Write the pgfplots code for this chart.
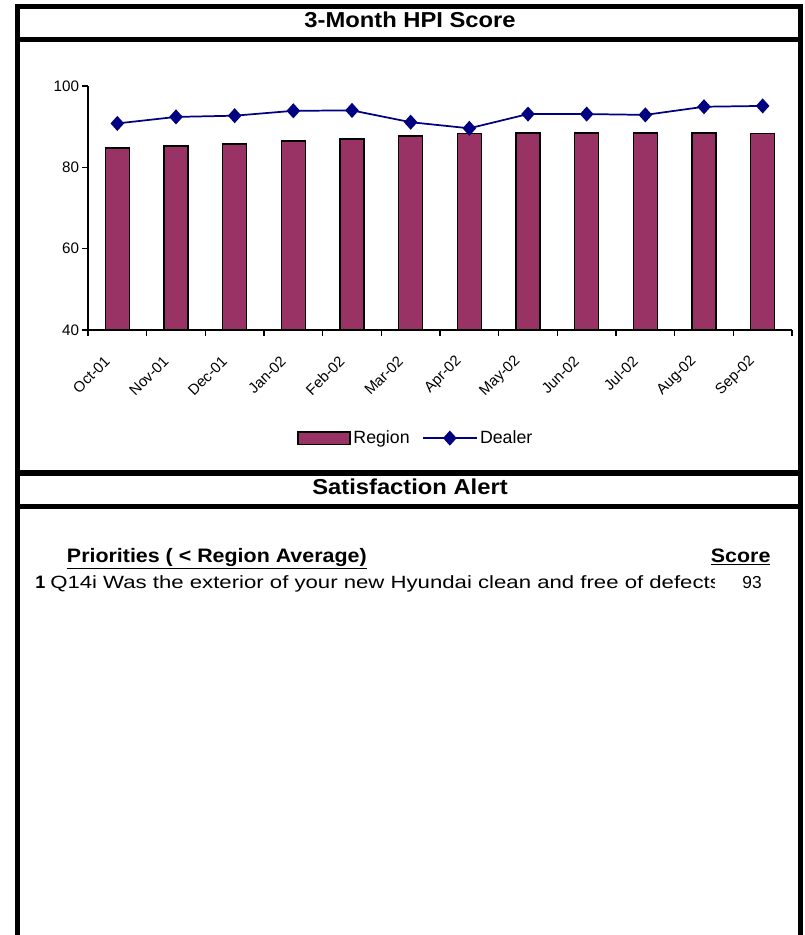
\documentclass[border=0pt]{standalone}
\usepackage{fontspec}
\setmainfont{Liberation Sans}
\newfontfamily\widefont{Liberation Sans}[FakeStretch=1.25]
\newfontfamily\medfont{Liberation Sans}[FakeStretch=1.1]
\newfontfamily\titlefont{Liberation Sans}[FakeStretch=1.1]
\usepackage{pgfplots}
\pgfplotsset{compat=1.18}
\definecolor{plum}{HTML}{993366}
\definecolor{navyb}{HTML}{000080}
\begin{document}
\begin{tikzpicture}
\begin{scope}[x=0.75pt,y=0.75pt]
\useasboundingbox (0,0) rectangle (804,-935);
\fill[black] (15,-4) rectangle (20,-935);
\fill[black] (798,-4) rectangle (803,-935);
\fill[black] (15,-4) rectangle (803,-8.5);
\fill[black] (15,-37) rectangle (803,-42);
\fill[black] (15,-470) rectangle (803,-475.5);
\fill[black] (15,-503.5) rectangle (803,-508.5);
\node[anchor=base,inner sep=0,font=\titlefont\bfseries\fontsize{16.2}{18}\selectfont] at (410,-27) {3-Month HPI Score};
\node[anchor=base,inner sep=0,font=\titlefont\bfseries\fontsize{16.2}{18}\selectfont] at (410,-494.5) {Satisfaction Alert};
\node[anchor=base west,inner sep=0,font=\medfont\bfseries\fontsize{14.6}{16}\selectfont] at (66.7,-562) {\underline{Priorities ( < Region Average)}};
\node[anchor=base east,inner sep=0,font=\medfont\bfseries\fontsize{14.6}{16}\selectfont] at (770.7,-562) {\underline{Score}};
\node[anchor=base west,inner sep=0,font=\bfseries\fontsize{13.5}{15}\selectfont] at (35,-588) {1};
\begin{scope}
\clip (40,-560) rectangle (714,-600);
\node[anchor=base west,inner sep=0,font=\widefont\fontsize{13.3}{15}\selectfont] at (50,-588) {Q14i Was the exterior of your new Hyundai clean and free of defects};
\end{scope}
\node[anchor=base east,inner sep=0,font=\fontsize{13}{15}\selectfont] at (762,-588) {93};
\end{scope}
\begin{axis}[
  at={(66pt,-247.5pt)}, anchor=south west,
  scale only axis, width=528pt, height=183pt,
  xmin=-0.5, xmax=11.5, ymin=40, ymax=100,
  axis lines*=left,
  axis line style={line width=1.4pt, black},
  xtick={0,...,11},
  xticklabels={Oct-01,Nov-01,Dec-01,Jan-02,Feb-02,Mar-02,Apr-02,May-02,Jun-02,Jul-02,Aug-02,Sep-02},
  minor xtick={-0.5,0.5,1.5,2.5,3.5,4.5,5.5,6.5,7.5,8.5,9.5,10.5,11.5},
  major x tick style={draw=none},
  minor x tick style={line width=1.2pt, black},
  ytick={40,60,80,100},
  y tick style={line width=1.2pt, black},
  tick align=outside,
  major tick length=4.5pt, minor tick length=4.5pt,
  tick label style={font=\fontsize{11.2}{13}\selectfont},
  yticklabel style={font=\fontsize{11.4}{13}\selectfont, inner sep=2pt},
  /pgf/number format/assume math mode=true,
  xticklabel style={xshift=-7.5pt, rotate=45, anchor=east, inner sep=0pt},
  xticklabel shift=17pt,
  clip=false,
  legend columns=2,
  legend style={draw=none, fill=none, at={(0.466,-0.443)}, anchor=center,
    font=\fontsize{13.3}{15}\selectfont,
    /tikz/every even column/.append style={column sep=7.5pt}},
]
\addplot[ybar, bar width=18pt, fill=plum, draw=black, line width=1.2pt,
  legend image code/.code={\draw[fill=plum, draw=black, line width=1.2pt] (0pt,-4.7pt) rectangle (39pt,4.7pt);}]
  coordinates {(0,84.8)(1,85.2)(2,85.7)(3,86.5)(4,87.0)(5,87.7)(6,88.3)(7,88.4)(8,88.4)(9,88.4)(10,88.5)(11,88.3)};
\addlegendentry{Region}
\addplot[navyb, line width=1.3pt, mark=diamond*, mark size=4.7pt, mark options={solid, fill=navyb, xscale=1.2},
  legend image code/.code={\draw[navyb, line width=1.3pt, mark=diamond*, mark size=4.7pt, mark options={solid, fill=navyb, xscale=1.2}, mark repeat=2, mark phase=2] plot coordinates {(0pt,0pt)(20pt,0pt)(40pt,0pt)};}]
  coordinates {(0,90.8)(1,92.4)(2,92.7)(3,93.9)(4,94.0)(5,91.1)(6,89.6)(7,93.1)(8,93.1)(9,92.9)(10,94.9)(11,95.1)};
\addlegendentry{Dealer}
\end{axis}
\end{tikzpicture}
\end{document}
